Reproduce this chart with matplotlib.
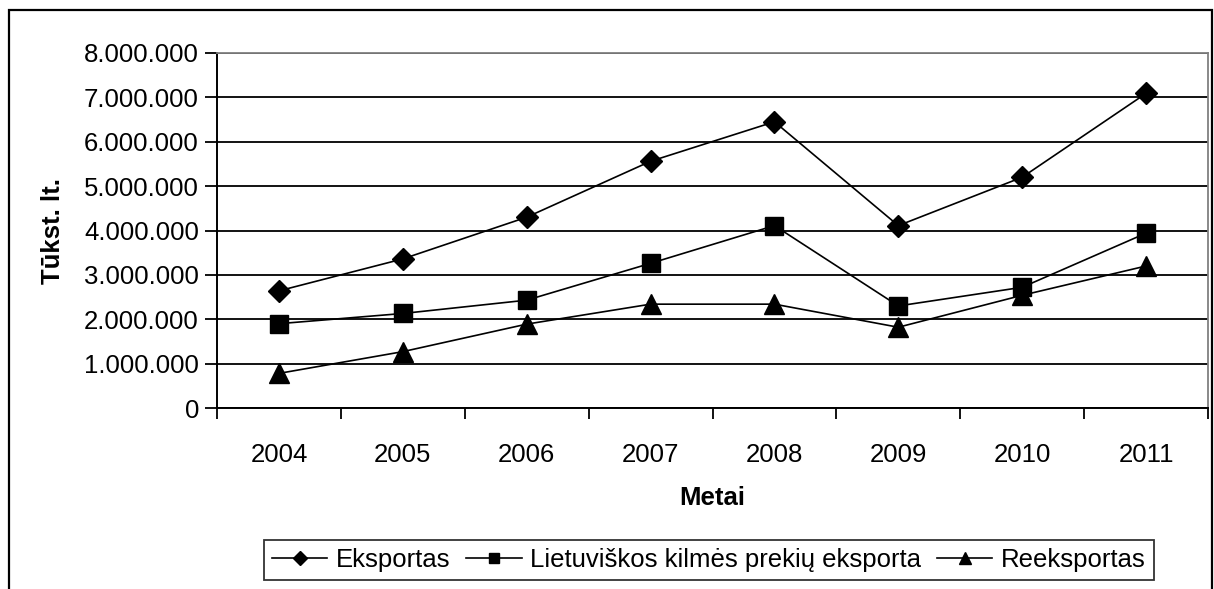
import matplotlib
matplotlib.use("Agg")
import matplotlib.pyplot as plt
from matplotlib.ticker import FuncFormatter, FixedLocator
from matplotlib.patches import Rectangle

plt.rcParams["font.family"] = ["Liberation Sans", "DejaVu Sans"]

years = ["2004", "2005", "2006", "2007", "2008", "2009", "2010", "2011"]
eksportas = [2640000, 3360000, 4300000, 5560000, 6450000, 4110000, 5200000, 7090000]
lietuviskos = [1900000, 2130000, 2430000, 3260000, 4110000, 2300000, 2720000, 3940000]
reeksportas = [780000, 1270000, 1890000, 2340000, 2340000, 1820000, 2540000, 3200000]

W, H = 1214, 589
FS = 18.5
fig = plt.figure(figsize=(W / 100, H / 100), dpi=100)
fig.patch.set_facecolor("white")
ax = fig.add_axes([217 / W, 1 - 408 / H, (1208 - 217) / W, (408 - 53) / H])

# outer chart frame (bottom edge cut off in original)
fig.patches.append(Rectangle((9 / W, -0.05), (1212 - 9) / W, 1 - 10 / H + 0.05,
                             transform=fig.transFigure, fill=False, ec="black", lw=1.6))

x = list(range(len(years)))
kw = dict(color="black", lw=1.2, mfc="black", mec="black")
ax.plot(x, eksportas, marker="D", ms=11.5, label="Eksportas", **kw)
ax.plot(x, lietuviskos, marker="s", ms=13, label="Lietuviškos kilmės prekių eksporta", **kw)
ax.plot(x, reeksportas, marker="^", ms=15, label="Reeksportas", **kw)

ax.set_xlim(-0.5, len(years) - 0.5)
ax.set_ylim(0, 8000000)
ax.set_yticks(range(0, 8000001, 1000000))
ax.yaxis.set_major_formatter(FuncFormatter(lambda v, p: f"{int(v):,}".replace(",", ".")))
ax.yaxis.grid(True, color="black", lw=1.3)
ax.set_axisbelow(True)

ax.xaxis.set_major_locator(FixedLocator([i - 0.5 for i in range(len(years) + 1)]))
ax.xaxis.set_minor_locator(FixedLocator(x))
ax.set_xticklabels([])
ax.set_xticklabels(years, minor=True)
ax.tick_params(axis="x", which="minor", length=0, pad=25, labelsize=FS)
ax.tick_params(axis="x", which="major", length=8, width=1.3, direction="out")
ax.tick_params(axis="y", length=9, width=1.3, direction="out", labelsize=FS, pad=4)

for s in ["top", "right"]:
    ax.spines[s].set_color("#808080")
    ax.spines[s].set_linewidth(1.3)
for s in ["left", "bottom"]:
    ax.spines[s].set_color("black")
    ax.spines[s].set_linewidth(1.4)

ax.set_xlabel("Metai", fontsize=FS, fontweight="bold", labelpad=14)
ax.set_ylabel("Tūkst. lt.", fontsize=FS, fontweight="bold", labelpad=14)

leg = fig.legend(loc="center", bbox_to_anchor=(709 / W, 1 - 560 / H), ncol=3, fontsize=FS,
                 frameon=True, fancybox=False, edgecolor="black", handlelength=2.15,
                 handletextpad=0.35, columnspacing=0.6, borderpad=0.3, markerscale=0.6,
                 borderaxespad=0)
leg.get_frame().set_linewidth(1.3)

fig.savefig("out.png", dpi=100, facecolor="white")
